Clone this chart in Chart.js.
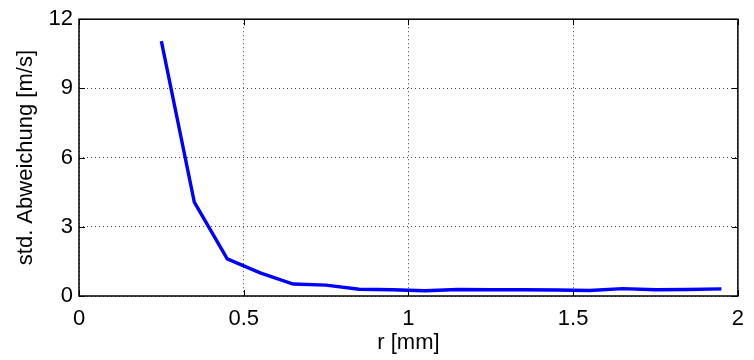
<!DOCTYPE html>
<html>
<head>
<meta charset="utf-8">
<script src="https://cdn.jsdelivr.net/npm/chart.js@4.4.0/dist/chart.umd.min.js"></script>
<style>
    body { margin: 0; background: #fff; }
    #wrap { width: 754px; height: 360px; }
</style>
</head>
<body>
<div id="wrap"><canvas id="stdChart" width="754" height="360"></canvas></div>
<script>
const rValues = [0.25, 0.35, 0.45, 0.55, 0.65, 0.75, 0.85, 0.95, 1.05, 1.15, 1.25, 1.35, 1.45, 1.55, 1.65, 1.75, 1.85, 1.95];
const stdValues = [11.05, 4.07, 1.61, 1.0, 0.52, 0.47, 0.29, 0.27, 0.23, 0.28, 0.27, 0.27, 0.26, 0.24, 0.32, 0.27, 0.28, 0.31];
const xTicks = [0, 0.5, 1, 1.5, 2];
const yTicks = [0, 3, 6, 9, 12];

const font = { family: '"Liberation Sans", Arial, sans-serif', size: 22 };

// Rahmen + Ticks nach innen (MATLAB-Stil)
const boxPlugin = {
    id: 'box',
    afterDraw(chart) {
        const { ctx, chartArea: a, scales } = chart;
        const len = 6;
        ctx.save();
        ctx.strokeStyle = '#000';
        ctx.lineWidth = 1;
        ctx.beginPath();
        xTicks.forEach(v => {
            const x = Math.round(scales.x.getPixelForValue(v)) + 0.5;
            ctx.moveTo(x, a.bottom); ctx.lineTo(x, a.bottom - len);
            ctx.moveTo(x, a.top); ctx.lineTo(x, a.top + len);
        });
        yTicks.forEach(v => {
            const y = Math.round(scales.y.getPixelForValue(v)) + 0.5;
            ctx.moveTo(a.left, y); ctx.lineTo(a.left + len, y);
            ctx.moveTo(a.right, y); ctx.lineTo(a.right - len, y);
        });
        ctx.stroke();
        ctx.lineWidth = 1.5;
        ctx.strokeRect(a.left, a.top, a.right - a.left, a.bottom - a.top);
        ctx.restore();
    }
};

const ctx = document.getElementById('stdChart').getContext('2d');
new Chart(ctx, {
    type: 'line',
    data: {
        datasets: [{
            data: rValues.map((r, i) => ({ x: r, y: stdValues[i] })),
            borderColor: '#0000ff',
            borderWidth: 3.4,
            pointRadius: 0,
            fill: false,
            tension: 0
        }]
    },
    options: {
        responsive: false,
        animation: false,
        layout: { padding: { left: 0, right: 7, top: 18, bottom: 0 } },
        plugins: {
            legend: { display: false },
            tooltip: { enabled: false }
        },
        scales: {
            x: {
                type: 'linear',
                min: 0,
                max: 2,
                afterFit(scale) { scale.height = 64; },
                afterBuildTicks(scale) { scale.ticks = xTicks.map(v => ({ value: v })); },
                grid: {
                    color: '#444',
                    lineWidth: 1,
                    drawTicks: false
                },
                border: { display: false, dash: [1, 3] },
                ticks: {
                    color: '#000',
                    font: font,
                    padding: 10,
                    maxRotation: 0,
                    callback: v => String(v)
                },
                title: {
                    display: true,
                    text: 'r [mm]',
                    color: '#000',
                    font: font,
                    padding: { top: 4, bottom: 4 }
                }
            },
            y: {
                min: 0,
                max: 12,
                afterFit(scale) { scale.width = 79; },
                afterBuildTicks(scale) { scale.ticks = yTicks.map(v => ({ value: v })); },
                grid: {
                    color: '#444',
                    lineWidth: 1,
                    drawTicks: false
                },
                border: { display: false, dash: [1, 3] },
                ticks: {
                    color: '#000',
                    font: font,
                    padding: 6,
                    callback: v => String(v)
                },
                title: {
                    display: true,
                    text: 'std. Abweichung [m/s]',
                    color: '#000',
                    font: font,
                    padding: { top: 13, bottom: 0 }
                }
            }
        }
    },
    plugins: [boxPlugin]
});
</script>
</body>
</html>
